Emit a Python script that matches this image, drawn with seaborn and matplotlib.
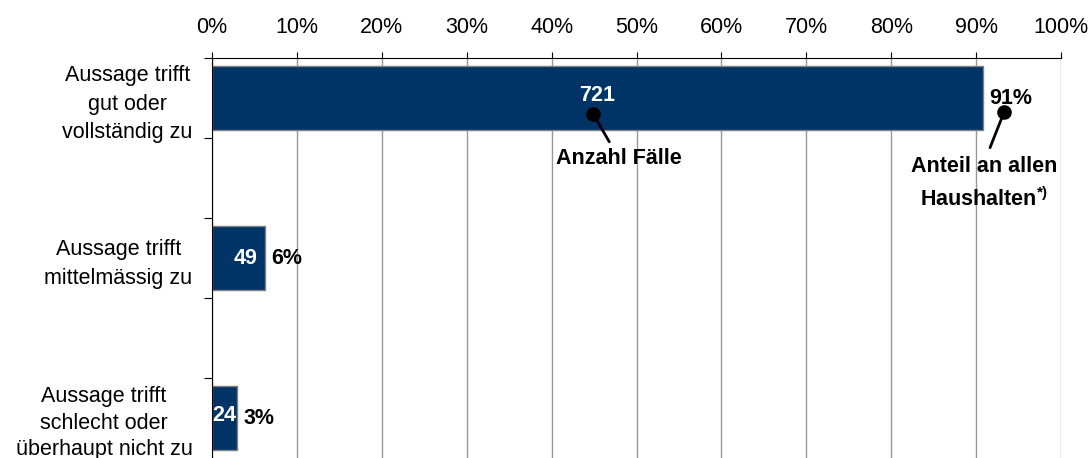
import matplotlib
matplotlib.use("Agg")
import matplotlib.pyplot as plt
import seaborn as sns
from matplotlib.ticker import FixedLocator, PercentFormatter

# Data
categories = ["Aussage trifft\ngut oder\nvollständig zu",
              "Aussage trifft\nmittelmässig zu",
              "Aussage trifft\nschlecht oder\nüberhaupt nicht zu"]
shares = [90.8, 6.2, 3.0]          # share of all households, %
counts = [721, 49, 24]             # number of cases
share_labels = ["91%", "6%", "3%"]

sns.set_style("white")
plt.rcParams['font.family'] = ['Liberation Sans', 'DejaVu Sans']
plt.rcParams['mathtext.fontset'] = 'custom'
plt.rcParams['mathtext.rm'] = 'Liberation Sans:bold'
plt.rcParams['mathtext.it'] = 'Liberation Sans:bold'
plt.rcParams['text.color'] = 'black'
plt.rcParams['xtick.color'] = 'black'
plt.rcParams['ytick.color'] = 'black'
plt.rcParams['axes.labelcolor'] = 'black'

FS = 15.5
NAVY = "#003366"

fig = plt.figure(figsize=(10.91, 4.58), dpi=100)
ax = fig.add_axes([212 / 1091, 0, 849 / 1091, 400 / 458])

# empty slots between the categories
order = [categories[0], "_gap1", categories[1], "_gap2", categories[2]]
sns.barplot(x=shares, y=categories, order=order, orient="h", color=NAVY,
            saturation=1, edgecolor="#808080", linewidth=1, width=0.8, ax=ax)

ax.set_xlim(0, 100)
ax.set_ylim(4.5, -0.5)
ax.set_xlabel("")
ax.set_ylabel("")

# x axis on top
ax.xaxis.tick_top()
ax.xaxis.set_major_locator(FixedLocator(range(0, 101, 10)))
ax.xaxis.set_major_formatter(PercentFormatter(decimals=0))
ax.tick_params(axis='x', which='major', direction='out', length=4.5, width=0.8,
               color='black', labelcolor='black', pad=10, labelsize=FS)

# y axis: labels at centers, tick marks between slots
ax.set_yticks(range(5))
ax.set_yticklabels([categories[0], "", categories[1], "", categories[2]])
ax.set_yticks([-0.5, 0.5, 1.5, 2.5, 3.5], minor=True)
ax.tick_params(axis='y', which='major', length=0, pad=14, labelsize=FS,
               labelcolor='black')
ax.tick_params(axis='y', which='minor', left=True, length=6, width=0.8,
               color='black', direction='out')
ylabs = ax.get_yticklabels()
for lab in ylabs:
    lab.set_multialignment('center')
    lab.set_linespacing(1.45)
ylabs[-1].set_linespacing(1.33)

ax.set_axisbelow(True)
ax.grid(axis='x', color='#999999', lw=1)
ax.grid(axis='y', visible=False)
for side in ['right', 'bottom']:
    ax.spines[side].set_visible(False)
for side in ['top', 'left']:
    ax.spines[side].set_visible(True)
    ax.spines[side].set_color('black')
    ax.spines[side].set_linewidth(0.8)

# value labels
count_align = ["center", "right", "center"]
for cat, s, c, sl, al in zip(categories, shares, counts, share_labels, count_align):
    y = order.index(cat)
    if al == "center":
        ax.text(s / 2, y - 0.03, str(c), color='white', fontsize=FS,
                fontweight='bold', ha='center', va='center')
    else:
        ax.annotate(str(c), xy=(s, y), xytext=(-5, 0), textcoords='offset points',
                    color='white', fontsize=FS, fontweight='bold',
                    ha='right', va='center')
    ax.annotate(sl, xy=(s, y), xytext=(4.5, 0), textcoords='offset points',
                color='black', fontsize=FS, fontweight='bold',
                ha='left', va='center')

# callouts
ax.plot(44.9, 0.2, 'o', color='black', ms=9.5)
ax.annotate("Anzahl Fälle", xy=(44.9, 0.2), xytext=(47.9, 0.75),
            ha='center', va='center', fontsize=FS, fontweight='bold',
            arrowprops=dict(arrowstyle='-', color='black', lw=2,
                            shrinkA=2, shrinkB=0))
ax.plot(93.3, 0.175, 'o', color='black', ms=9.5, clip_on=False)
ax.annotate("Anteil an allen\nHaushalten$^{*)}$", xy=(93.3, 0.175),
            xytext=(90.9, 1.07), ha='center', va='center', multialignment='center',
            fontsize=FS, fontweight='bold', linespacing=1.55,
            arrowprops=dict(arrowstyle='-', color='black', lw=2,
                            relpos=(0.52, 1), shrinkA=4, shrinkB=0))

fig.savefig("out.png", dpi=100)
